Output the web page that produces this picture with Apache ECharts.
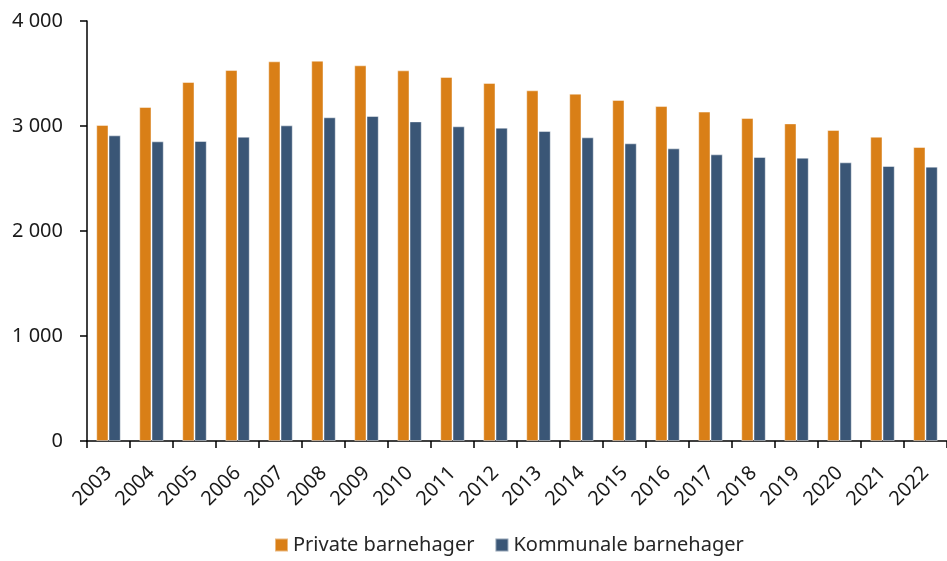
<!DOCTYPE html>
<html>
<head>
<meta charset="utf-8">
<script src="https://cdn.jsdelivr.net/npm/echarts@6/dist/echarts.min.js"></script>
<style>
  html, body { margin: 0; padding: 0; background: #fff; }
  #chart { width: 947px; height: 561px; }
</style>
</head>
<body>
<div id="chart"></div>
<script>
var years = ['2003', '2004', '2005', '2006', '2007', '2008', '2009', '2010', '2011', '2012',
             '2013', '2014', '2015', '2016', '2017', '2018', '2019', '2020', '2021', '2022'];
var privateVals = [3010, 3181, 3419, 3533, 3616, 3622, 3578, 3530, 3467, 3410,
                   3340, 3308, 3248, 3190, 3137, 3076, 3025, 2962, 2898, 2800];
var kommunaleVals = [2911, 2854, 2857, 2898, 3006, 3083, 3095, 3044, 2997, 2984,
                     2952, 2892, 2835, 2787, 2730, 2705, 2698, 2654, 2619, 2613];

var font = "'Noto Sans', sans-serif";
var chart = echarts.init(document.getElementById('chart'));

chart.setOption({
  animation: false,
  textStyle: { fontFamily: font },
  grid: { left: 87, right: -7, top: 21, bottom: 120, containLabel: false },
  legend: {
    left: 274,
    top: 535,
    padding: 0,
    itemWidth: 13,
    itemHeight: 13,
    itemGap: 20,
    icon: 'rect',
    textStyle: { fontFamily: font, fontSize: 20, color: '#262626' },
    data: ['Private barnehager', 'Kommunale barnehager']
  },
  xAxis: {
    type: 'category',
    data: years,
    axisLine: { lineStyle: { color: '#000', width: 1.5 } },
    axisTick: { show: true, length: 7, lineStyle: { color: '#000', width: 1.5 } },
    axisLabel: { rotate: 45, fontSize: 20, color: '#1a1a1a', margin: 29, fontFamily: font }
  },
  yAxis: {
    type: 'value',
    min: 0,
    max: 4000,
    interval: 1000,
    axisLine: { show: true, lineStyle: { color: '#000', width: 1.5 } },
    axisTick: { show: true, length: 7, lineStyle: { color: '#000', width: 1.5 } },
    splitLine: { show: false },
    axisLabel: {
      fontSize: 20,
      color: '#1a1a1a',
      margin: 24,
      fontFamily: font,
      formatter: function (v) {
        return String(v).replace(/\B(?=(\d{3})+(?!\d))/g, ' ');
      }
    }
  },
  series: [
    {
      name: 'Private barnehager',
      type: 'bar',
      data: privateVals,
      barGap: '0%',
      barCategoryGap: '43%',
      itemStyle: { color: '#D97F17', borderColor: 'rgba(255,255,255,0.45)', borderWidth: 1 }
    },
    {
      name: 'Kommunale barnehager',
      type: 'bar',
      data: kommunaleVals,
      barGap: '0%',
      barCategoryGap: '43%',
      itemStyle: { color: '#3A5676', borderColor: 'rgba(255,255,255,0.45)', borderWidth: 1 }
    }
  ]
});
</script>
</body>
</html>
